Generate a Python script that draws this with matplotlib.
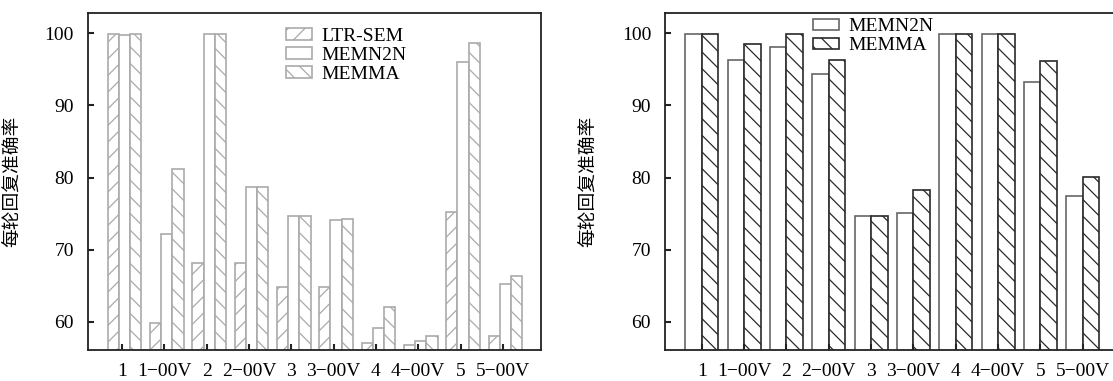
import numpy as np
import matplotlib as mpl
import matplotlib.pyplot as plt

plt.rcParams['font.family'] = ['Liberation Serif', 'Noto Sans CJK SC']
plt.rcParams['hatch.linewidth'] = 0.9

cats = ['1', '1−00V', '2', '2−00V', '3', '3−00V', '4', '4−00V', '5', '5−00V']

# left panel
ltr_sem = [99.9, 59.8, 68.2, 68.2, 64.8, 64.8, 57.0, 56.8, 75.2, 58.0]
memn2n_l = [99.8, 72.1, 99.9, 78.7, 74.6, 74.1, 59.2, 57.3, 96.0, 65.3]
memma_l = [99.9, 81.2, 99.9, 78.7, 74.6, 74.3, 62.1, 58.0, 98.6, 66.3]

# right panel
memn2n_r = [99.9, 96.3, 98.1, 94.4, 74.6, 75.1, 99.9, 99.9, 93.3, 77.5]
memma_r = [99.9, 98.5, 99.9, 96.3, 74.6, 78.3, 99.9, 99.9, 96.2, 80.1]

ylabel = '每轮回复准确率'
W, H = 1113, 381

fig = plt.figure(figsize=(W / 100, H / 100), dpi=100)
ax1 = fig.add_axes([87.7 / W, 31 / H, 453.3 / W, 337.3 / H])
ax2 = fig.add_axes([665 / W, 31 / H, 453.3 / W, 337.3 / H])

x = np.arange(len(cats))

# left chart
w = 0.265
gl = '#aaaaaa'
ax1.bar(x - w, ltr_sem, w, color='white', edgecolor=gl, hatch='//',
        linewidth=1.2, label='LTR-SEM')
ax1.bar(x, memn2n_l, w, color='white', edgecolor=gl, linewidth=1.2, label='MEMN2N')
ax1.bar(x + w, memma_l, w, color='white', edgecolor=gl, hatch='\\\\',
        linewidth=1.2, label='MEMMA')
ax1.set_xticks(x - 0.06)

# right chart
w2 = 0.39
ax2.bar(x - w2 / 2, memn2n_r, w2, color='white', edgecolor='#666666',
        linewidth=1.2, label='MEMN2N')
ax2.bar(x + w2 / 2, memma_r, w2, color='white', edgecolor='#2a2a2a', hatch='\\\\',
        linewidth=1.2, label='MEMMA')
ax2.set_xticks(x)

for ax in (ax1, ax2):
  ax.set_xlim(-0.868, 9.84)
  ax.set_ylim(56.08, 102.86)
  ax.set_yticks([60, 70, 80, 90, 100])
  ax.set_xticklabels(cats)
  ax.tick_params(direction='in', length=4, width=1.5, color='#222222',
                 labelsize=14, top=False, right=False)
  ax.tick_params(axis='x', pad=9)
  ax.tick_params(axis='y', pad=10)
  for s in ax.spines.values():
    s.set_linewidth(1.3)
    s.set_color('#222222')
  ax.set_ylabel(ylabel, family=['Noto Sans CJK SC'], fontsize=13.5)

ax1.yaxis.set_label_coords(-66 / 453.3, 0.5)
ax2.yaxis.set_label_coords(-67 / 453.3, 0.5)

leg_kw = dict(loc='upper left', frameon=False, fontsize=14, handlelength=1.34,
              handleheight=0.52, handletextpad=0.46, labelspacing=0.1,
              borderpad=0, borderaxespad=0)
ax1.legend(bbox_to_anchor=(0.4375, 0.955), **leg_kw)
ax2.legend(bbox_to_anchor=(0.3265, 0.983), **leg_kw)

fig.savefig('out.png', dpi=100)
